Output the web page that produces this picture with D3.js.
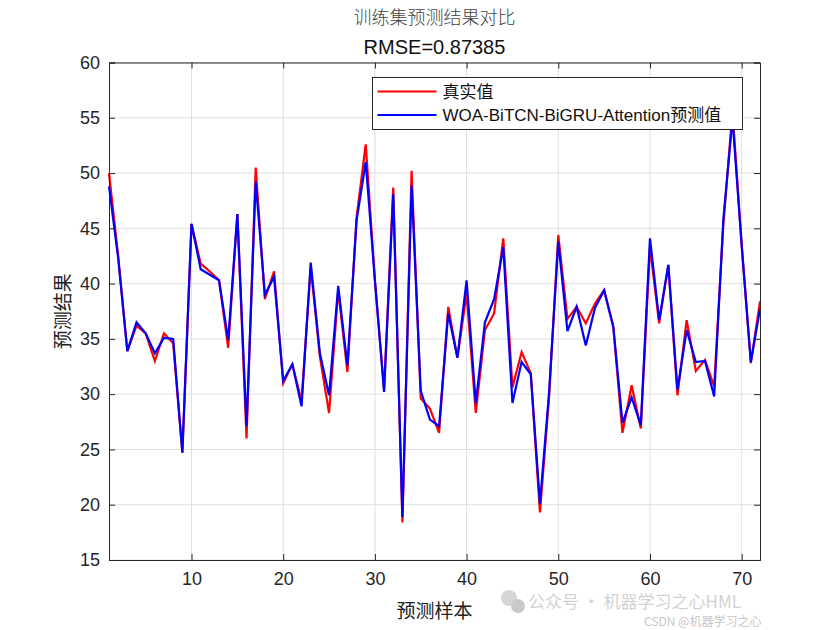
<!DOCTYPE html>
<html>
<head>
<meta charset="utf-8">
<script src="https://cdn.jsdelivr.net/npm/d3@7"></script>
<style>
  html, body { margin: 0; padding: 0; background: #fff; }
  svg { display: block; }
</style>
</head>
<body>
<div id="chart"></div>
<script>
// values
const trueValues = [
  50.0, 42.5, 33.9, 36.2, 35.5, 33.0, 35.5, 34.6, 24.7, 45.4,
  41.8, 41.1, 40.3, 34.2, 46.3, 26.0, 50.5, 38.6, 41.1, 31.0,
  32.7, 29.4, 41.5, 33.4, 28.3, 39.4, 32.0, 46.0, 52.6, 40.3,
  30.4, 48.7, 18.4, 50.2, 29.6, 28.7, 26.5, 37.9, 33.3, 39.1,
  28.3, 35.8, 37.3, 44.1, 30.6, 33.8, 31.9, 19.3, 29.8, 44.4,
  36.8, 37.9, 36.4, 38.2, 39.4, 36.1, 26.5, 30.8, 26.9, 43.3,
  36.4, 41.7, 29.9, 36.7, 32.1, 33.1, 30.7, 45.3, 55.6, 43.5,
  32.8, 38.4
];
const predValues = [
  48.8, 42.3, 33.9, 36.5, 35.5, 33.7, 35.1, 35.0, 24.7, 45.4,
  41.3, 40.8, 40.3, 34.9, 46.3, 27.1, 49.2, 39.0, 40.6, 31.2,
  32.7, 28.9, 41.9, 33.7, 29.9, 39.8, 32.6, 45.7, 51.0, 40.3,
  30.2, 48.1, 18.9, 48.9, 30.3, 27.7, 27.1, 37.3, 33.3, 40.3,
  29.2, 36.5, 38.6, 43.3, 29.2, 32.9, 31.8, 20.1, 30.2, 43.8,
  35.7, 37.9, 34.4, 37.8, 39.4, 36.1, 27.4, 29.7, 27.2, 44.1,
  36.7, 41.7, 30.4, 35.8, 32.9, 33.0, 29.8, 45.8, 54.9, 43.5,
  32.9, 37.7
];
const xTicks = [10, 20, 30, 40, 50, 60, 70];
const yTicks = [15, 20, 25, 30, 35, 40, 45, 50, 55, 60];
const seriesNames = ['真实值', 'WOA-BiTCN-BiGRU-Attention预测值'];
const seriesColors = ['#ff0000', '#0000ff'];
const titleLines = ['训练集预测结果对比', 'RMSE=0.87385'];

const width = 840, height = 630;
const margin = { top: 62.5, right: 80, bottom: 70, left: 109 };
const innerW = width - margin.left - margin.right;
const innerH = height - margin.top - margin.bottom;

const latin = '"Liberation Sans", Arial, Helvetica, sans-serif';
const cjk = '"Noto Sans CJK SC", "Liberation Sans", sans-serif';
const axisColor = '#262626';

const svg = d3.select('#chart').append('svg')
  .attr('width', width).attr('height', height);

const x = d3.scaleLinear().domain([1, trueValues.length]).range([margin.left, margin.left + innerW]);
const y = d3.scaleLinear().domain([15, 60]).range([margin.top + innerH, margin.top]);

// grid
const grid = svg.append('g').attr('class', 'grid');
grid.selectAll('line.gx').data(xTicks).join('line')
  .attr('class', 'gx')
  .attr('x1', d => x(d)).attr('x2', d => x(d))
  .attr('y1', y(15)).attr('y2', y(60))
  .attr('stroke', '#dfdfdf').attr('stroke-width', 1);
grid.selectAll('line.gy').data(yTicks).join('line')
  .attr('class', 'gy')
  .attr('x1', x(1)).attr('x2', x(trueValues.length))
  .attr('y1', d => y(d)).attr('y2', d => y(d))
  .attr('stroke', '#dfdfdf').attr('stroke-width', 1);

// lines
const line = d3.line().x((d, i) => x(i + 1)).y(d => y(d));
[trueValues, predValues].forEach((vals, k) => {
  svg.append('path')
    .datum(vals)
    .attr('fill', 'none')
    .attr('stroke', seriesColors[k])
    .attr('stroke-width', 2.2)
    .attr('stroke-linejoin', 'miter')
    .attr('d', line);
});

// axes (MATLAB style: ticks inward, box)
const tickLen = 6;
const xAxis = d3.axisBottom(x).tickValues(xTicks).tickSize(-tickLen).tickPadding(12);
const yAxis = d3.axisLeft(y).tickValues(yTicks).tickSize(-tickLen).tickPadding(9);
const xTop = d3.axisTop(x).tickValues(xTicks).tickSize(-tickLen).tickFormat('');
const yRight = d3.axisRight(y).tickValues(yTicks).tickSize(-tickLen).tickFormat('');

function styleAxis(g) {
  g.selectAll('path').attr('stroke', axisColor).attr('stroke-width', 1);
  g.selectAll('line').attr('stroke', axisColor);
  g.selectAll('text').attr('fill', axisColor)
    .style('font-family', latin).style('font-size', '18px');
}

svg.append('g').attr('transform', `translate(0,${y(15)})`).call(xAxis).call(styleAxis);
svg.append('g').attr('transform', `translate(${x(1)},0)`).call(yAxis).call(styleAxis);
svg.append('g').attr('transform', `translate(0,${y(60)})`).call(xTop).call(styleAxis);
svg.append('g').attr('transform', `translate(${x(trueValues.length)},0)`).call(yRight).call(styleAxis);

// titles
const cx = margin.left + innerW / 2;
svg.append('text').attr('x', cx).attr('y', 24)
  .attr('text-anchor', 'middle').attr('fill', '#444')
  .style('font-family', cjk).style('font-size', '18px').style('font-weight', 300)
  .text(titleLines[0]);
svg.append('text').attr('x', cx).attr('y', 54)
  .attr('text-anchor', 'middle').attr('fill', '#111')
  .style('font-family', latin).style('font-size', '20px')
  .text(titleLines[1]);

// axis labels
svg.append('text').attr('x', cx).attr('y', 618)
  .attr('text-anchor', 'middle').attr('fill', '#222')
  .style('font-family', cjk).style('font-size', '19px')
  .text('预测样本');
svg.append('text')
  .attr('transform', `translate(70,${margin.top + innerH / 2}) rotate(-90)`)
  .attr('text-anchor', 'middle').attr('fill', '#222')
  .style('font-family', cjk).style('font-size', '19px')
  .text('预测结果');

// legend
const lg = svg.append('g').attr('transform', 'translate(372.5,77.5)');
lg.append('rect').attr('width', 370).attr('height', 52)
  .attr('fill', '#fff').attr('stroke', axisColor).attr('stroke-width', 1);
seriesNames.forEach((name, k) => {
  const ly = 14 + k * 23.5;
  lg.append('line').attr('x1', 5).attr('x2', 64).attr('y1', ly).attr('y2', ly)
    .attr('stroke', seriesColors[k]).attr('stroke-width', 2.2);
  lg.append('text').attr('x', 70).attr('y', ly + 6)
    .attr('fill', '#111')
    .style('font-family', `"Liberation Sans", "Noto Sans CJK SC", sans-serif`)
    .style('font-size', '17px')
    .text(name);
});

// watermark
const wm = svg.append('g').attr('opacity', 0.75);
wm.append('circle').attr('cx', 509).attr('cy', 598).attr('r', 8).attr('fill', '#c8c8c8');
wm.append('circle').attr('cx', 518).attr('cy', 606).attr('r', 7).attr('fill', '#b8b8b8');
wm.append('text').attr('x', 528).attr('y', 608)
  .attr('fill', '#c4c4c4').style('font-family', cjk).style('font-size', '17px')
  .text('公众号 · 机器学习之心HML');
wm.append('text').attr('x', 644).attr('y', 626)
  .attr('fill', '#b4b4b4').style('font-family', cjk).style('font-size', '12px')
  .text('CSDN @机器学习之心');
</script>
</body>
</html>
